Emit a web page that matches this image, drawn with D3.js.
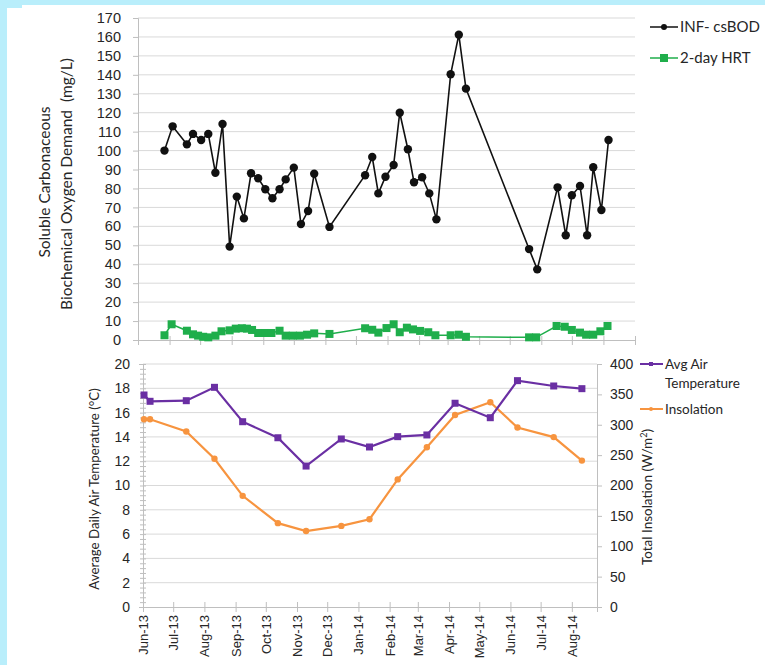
<!DOCTYPE html>
<html><head><meta charset="utf-8">
<script src="https://cdn.jsdelivr.net/npm/d3@7"></script>
<style>
html,body{margin:0;padding:0;background:#fff;}
svg{display:block;font-family:Lato,"Open Sans",sans-serif;}
</style></head>
<body>
<svg id="c" width="765" height="665"></svg>
<script>
// ---------- DATA ----------
const bodDates = ["2013-05-27","2013-06-04","2013-06-18","2013-06-24","2013-07-02","2013-07-09","2013-07-16","2013-07-23","2013-07-30","2013-08-06",
"2013-08-13","2013-08-20","2013-08-27","2013-09-03","2013-09-10","2013-09-17","2013-09-23","2013-10-01","2013-10-08","2013-10-15",
"2013-10-21","2013-11-05","2013-12-10","2013-12-17","2013-12-23","2013-12-30","2014-01-07","2014-01-13","2014-01-21","2014-01-27",
"2014-02-04","2014-02-11","2014-02-18","2014-03-04","2014-03-12","2014-03-19","2014-05-20","2014-05-28","2014-06-17","2014-06-25",
"2014-07-01","2014-07-09","2014-07-16","2014-07-22","2014-07-30","2014-08-06"];
const bodValues = [100,112.8,103.3,108.8,105.6,108.8,88.3,114,49.3,75.7,
64.2,88,85.4,79.6,74.8,79.6,84.8,91,61.2,68.1,
87.8,59.7,87,96.6,77.4,86.2,92.4,120,100.7,83.3,
85.9,77.4,63.7,140.3,161.2,132.7,48,37.3,80.6,55.3,
76.4,81.3,55.3,91.2,68.6,105.6];
const hrtDates = ["2013-05-27","2013-06-03","2013-06-18","2013-06-24","2013-06-29","2013-07-04","2013-07-09","2013-07-16","2013-07-22","2013-07-30",
"2013-08-05","2013-08-11","2013-08-16","2013-08-21","2013-08-27","2013-09-03","2013-09-09","2013-09-17","2013-09-23","2013-09-30",
"2013-10-07","2013-10-14","2013-10-21","2013-11-05","2013-12-10","2013-12-17","2013-12-23","2013-12-31","2014-01-07","2014-01-13",
"2014-01-20","2014-01-26","2014-02-02","2014-02-10","2014-02-17","2014-03-04","2014-03-12","2014-03-19","2014-05-20","2014-05-27",
"2014-06-16","2014-06-24","2014-07-01","2014-07-09","2014-07-15","2014-07-22","2014-07-29","2014-08-05"];
const hrtValues = [2.5,8.3,4.9,3,2.3,1.7,1.4,2.3,4.6,5.1,
6,6.2,6,5.3,3.7,3.7,3.7,4.9,2.3,2.3,
2.3,2.8,3.5,3.2,6.2,5.4,3.9,6.3,8.3,4.1,
6.5,5.6,4.8,4.1,2.5,2.5,2.8,1.7,1.4,1.4,
7.4,7,5.3,3.9,2.8,2.8,4.6,7.4];
const climDates = ["2013-06-02","2013-06-08","2013-07-14","2013-08-11","2013-09-08","2013-10-13","2013-11-10","2013-12-15",
"2014-01-12","2014-02-09","2014-03-10","2014-04-07","2014-05-12","2014-06-08","2014-07-14","2014-08-11"];
const airTemp = [17.45,16.93,16.98,18.08,15.25,13.93,11.6,13.83,13.17,14.02,14.16,16.77,15.58,18.63,18.19,17.97];
const insolation = [309,309,289,244,183,138,125,133.5,144.5,210,263,316,337,295.5,279.7,241];
const monthLabels = ["Jun-13","Jul-13","Aug-13","Sep-13","Oct-13","Nov-13","Dec-13","Jan-14","Feb-14","Mar-14","Apr-14","May-14","Jun-14","Jul-14","Aug-14"];
const topYTicks = d3.range(0,171,10);
const tempTicks = d3.range(0,21,2);
const insolTicks = d3.range(0,401,50);

// ---------- SETUP ----------
const parse = d3.timeParse("%Y-%m-%d");
const svg = d3.select("#c");
const CY = "#b9eefb";
svg.append("rect").attr("x",0).attr("y",0).attr("width",765).attr("height",5).attr("fill",CY);
svg.append("rect").attr("x",0).attr("y",0).attr("width",7).attr("height",665).attr("fill",CY);
svg.append("rect").attr("x",7).attr("y",5).attr("width",15).attr("height",3).attr("fill",CY);

const GRID = "#d9d9d9", AX = "#bfbfbf", TXT = "#262626";

// ---------- TOP CHART ----------
const xT = d3.scaleTime().domain([parse("2013-05-01"), parse("2014-09-01")]).range([138,635]);
const yT = d3.scaleLinear().domain([0,170]).range([340,18]);
const gT = svg.append("g");
gT.selectAll("line.grid").data(topYTicks.filter(d=>d>0)).join("line")
  .attr("x1",138).attr("x2",635).attr("y1",d=>yT(d)).attr("y2",d=>yT(d))
  .attr("stroke",GRID).attr("stroke-width",1);
const yAxT = gT.append("g").attr("transform","translate(138,0)")
  .call(d3.axisLeft(yT).tickValues(topYTicks).tickSize(5).tickPadding(12).tickFormat(d3.format("d")));
yAxT.select(".domain").attr("stroke",AX);
yAxT.selectAll(".tick line").attr("stroke",AX);
yAxT.selectAll("text").attr("fill",TXT).style("font-size","14.5px");
const xAxT = gT.append("g").attr("transform","translate(0,340)")
  .call(d3.axisBottom(xT).ticks(d3.timeMonth.every(1)).tickSize(5).tickFormat(""));
xAxT.select(".domain").attr("stroke",AX);
xAxT.selectAll(".tick line").attr("stroke",AX).attr("y1",-4);
const bod = bodDates.map((d,i)=>({x:parse(d),y:bodValues[i]}));
const hrt = hrtDates.map((d,i)=>({x:parse(d),y:hrtValues[i]}));
const lineT = d3.line().x(d=>xT(d.x)).y(d=>yT(d.y));
const GREEN = "#1fae4b";
gT.append("path").datum(hrt).attr("d",lineT).attr("fill","none").attr("stroke",GREEN).attr("stroke-width",1.5);
gT.selectAll("rect.h").data(hrt).join("rect").attr("x",d=>xT(d.x)-4).attr("y",d=>yT(d.y)-4)
  .attr("width",8).attr("height",8).attr("fill",GREEN);
gT.append("path").datum(bod).attr("d",lineT).attr("fill","none").attr("stroke","#111").attr("stroke-width",1.6);
gT.selectAll("circle.b").data(bod).join("circle").attr("cx",d=>xT(d.x)).attr("cy",d=>yT(d.y))
  .attr("r",4.2).attr("fill","#111");
// y title
const tt = svg.append("g").attr("fill",TXT).style("font-size","15.5px").attr("text-anchor","middle");
tt.append("text").attr("transform","translate(50,182) rotate(-90)").text("Soluble Carbonaceous");
tt.append("text").attr("transform","translate(72,184) rotate(-90)").attr("xml:space","preserve").text("Biochemical Oxygen Demand  (mg/L)");
// legend top
const lg = svg.append("g").style("font-size","15px").attr("fill",TXT);
lg.append("line").attr("x1",650).attr("x2",678).attr("y1",27).attr("y2",27).attr("stroke","#111").attr("stroke-width",1.5);
lg.append("circle").attr("cx",664).attr("cy",27).attr("r",3).attr("fill","#111");
lg.append("text").attr("x",680).attr("y",32).text("INF- csBOD");
lg.append("line").attr("x1",650).attr("x2",678).attr("y1",58).attr("y2",58).attr("stroke",GREEN).attr("stroke-width",1.5);
lg.append("rect").attr("x",660).attr("y",54).attr("width",8).attr("height",8).attr("fill",GREEN);
lg.append("text").attr("x",680).attr("y",63).text("2-day HRT");

// ---------- BOTTOM CHART ----------
const xB = d3.scaleTime().domain([parse("2013-06-01"), parse("2014-08-26")]).range([143,597]);
const yB = d3.scaleLinear().domain([0,20]).range([607,364]);
const yR = d3.scaleLinear().domain([0,400]).range([607,364]);
const gB = svg.append("g");
gB.selectAll("line.grid").data(tempTicks.filter(d=>d>0)).join("line")
  .attr("x1",143).attr("x2",597).attr("y1",d=>yB(d)).attr("y2",d=>yB(d))
  .attr("stroke",GRID).attr("stroke-width",1);
const yAxB = gB.append("g").attr("transform","translate(143,0)")
  .call(d3.axisLeft(yB).tickValues(d3.range(0,20.01,0.4)).tickSize(4).tickFormat(""));
yAxB.select(".domain").attr("stroke",AX);
yAxB.selectAll(".tick line").attr("stroke",AX).attr("x2",3).attr("x1",-3);
const yAxBL = gB.append("g").attr("transform","translate(143,0)")
  .call(d3.axisLeft(yB).tickValues(tempTicks).tickSize(0).tickPadding(13));
yAxBL.select(".domain").remove();
yAxBL.selectAll("text").attr("fill",TXT).style("font-size","14px");
const yAxR = gB.append("g").attr("transform","translate(597,0)")
  .call(d3.axisRight(yR).tickValues(insolTicks).tickSize(5).tickPadding(8));
yAxR.select(".domain").attr("stroke",AX);
yAxR.selectAll(".tick line").attr("stroke",AX);
yAxR.selectAll("text").attr("fill",TXT).style("font-size","14px");
const monthTicks = monthLabels.map(m=>d3.timeParse("%b-%y")(m));
const xAxB = gB.append("g").attr("transform","translate(0,607)")
  .call(d3.axisBottom(xB).tickValues(monthTicks).tickSize(5).tickPadding(6).tickFormat((d,i)=>monthLabels[i]));
xAxB.select(".domain").attr("stroke",AX);
xAxB.selectAll(".tick line").attr("stroke",AX).attr("y1",-5);
xAxB.selectAll("text").attr("fill",TXT).style("font-size","13px")
  .attr("transform","rotate(-90)").attr("text-anchor","end").attr("dx","-8").attr("dy","0.35em").attr("y",0).attr("x",0);
const clim = climDates.map((d,i)=>({x:parse(d),t:airTemp[i],s:insolation[i]}));
const ORANGE = "#f7943f", PURPLE = "#6a2fa3";
gB.append("path").datum(clim).attr("d",d3.line().x(d=>xB(d.x)).y(d=>yR(d.s))).attr("fill","none").attr("stroke",ORANGE).attr("stroke-width",2.2);
gB.selectAll("circle.s").data(clim).join("circle").attr("cx",d=>xB(d.x)).attr("cy",d=>yR(d.s)).attr("r",3.2).attr("fill",ORANGE);
gB.append("path").datum(clim).attr("d",d3.line().x(d=>xB(d.x)).y(d=>yB(d.t))).attr("fill","none").attr("stroke",PURPLE).attr("stroke-width",2.2);
gB.selectAll("rect.t").data(clim).join("rect").attr("x",d=>xB(d.x)-3.5).attr("y",d=>yB(d.t)-3.5).attr("width",7).attr("height",7).attr("fill",PURPLE);
const bt = svg.append("g").attr("fill",TXT).attr("text-anchor","middle");
bt.append("text").style("font-size","13.3px").attr("transform","translate(99,489) rotate(-90)").text("Average Daily Air Temperature (°C)");
const rt = bt.append("text").style("font-size","13.5px").attr("transform","translate(652,497) rotate(-90)");
rt.append("tspan").text("Total Insolation (W/m");
rt.append("tspan").attr("dy",-5).style("font-size","9px").text("2");
rt.append("tspan").attr("dy",5).text(")");
const lb = svg.append("g").style("font-size","13.5px").attr("fill",TXT);
lb.append("line").attr("x1",640).attr("x2",663).attr("y1",364).attr("y2",364).attr("stroke",PURPLE).attr("stroke-width",2);
lb.append("rect").attr("x",649).attr("y",362).attr("width",4).attr("height",4).attr("fill",PURPLE);
lb.append("text").attr("x",665).attr("y",369).text("Avg Air");
lb.append("text").attr("x",665).attr("y",388).text("Temperature");
lb.append("line").attr("x1",640).attr("x2",663).attr("y1",409).attr("y2",409).attr("stroke",ORANGE).attr("stroke-width",2);
lb.append("circle").attr("cx",651).attr("cy",409).attr("r",2).attr("fill",ORANGE);
lb.append("text").attr("x",665).attr("y",414).text("Insolation");
</script>
</body></html>
